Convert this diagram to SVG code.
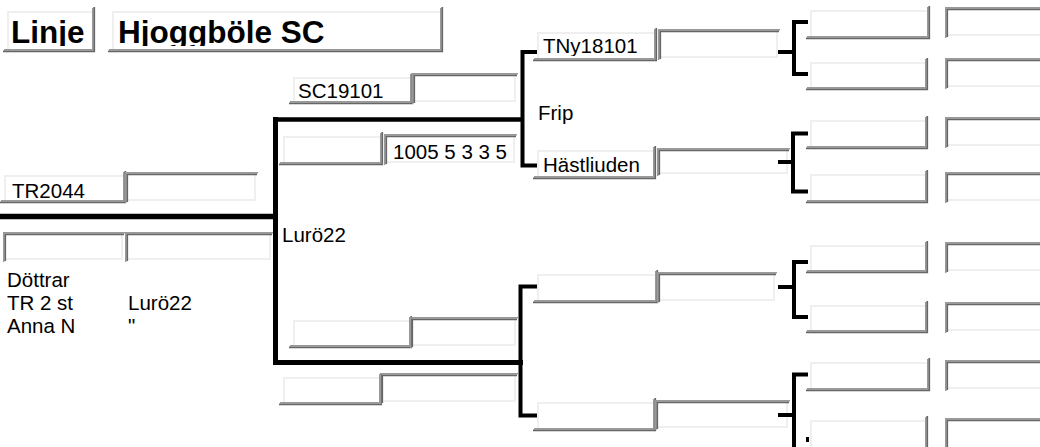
<svg xmlns="http://www.w3.org/2000/svg" width="1040" height="447" viewBox="0 0 1040 447">
<style>
.t{font-family:"Liberation Sans",Arial,sans-serif;font-size:20.5px;fill:#000}
.h{font-family:"Liberation Sans",Arial,sans-serif;font-size:31.5px;font-weight:bold;fill:#000}
.d2{fill:none;stroke:#666;stroke-width:1.75}
.d1{fill:none;stroke:#999;stroke-width:1.5}
.lt{fill:none;stroke:#efefef;stroke-width:2}
.io{fill:none;stroke:#999;stroke-width:1.5}
.ii{fill:none;stroke:#666;stroke-width:1.75}
#connectors path{fill:none;stroke:#000;stroke-linejoin:miter}
</style>
<defs>
<clipPath id="ch"><rect x="0" y="0" width="1040" height="46"/></clipPath>
<clipPath id="cn"><rect x="0" y="0" width="1040" height="56"/></clipPath>
</defs>
<rect width="1040" height="447" fill="#fff"/>

<g id="title-linje">
<text class="h" x="11" y="43" clip-path="url(#ch)">Linje</text>
<path class="lt" d="M8,49 V12 H92"/><path class="d1" d="M4,49.75 H92.75 V8"/><path class="d2" d="M3,51.25 H94.25 V7"/>
</g>
<g id="title-name">
<text class="h" x="118" y="43" clip-path="url(#ch)">Hjoggböle SC</text>
<path class="lt" d="M113,49 V12 H440"/><path class="d1" d="M109,49.75 H440.75 V8"/><path class="d2" d="M108,51.25 H442.25 V7"/>
</g>

<g id="node-tr2044">
<text class="t" x="12" y="198">TR2044</text>
<path class="lt" d="M5,200 V176 H123"/><path class="d1" d="M1,200.75 H123.75 V172"/><path class="d2" d="M0,202.25 H125.25 V171"/>
<path class="lt" d="M128,200 H255 V175"/><path class="io" d="M125.75,203 V172.75 H258"/><path class="ii" d="M127.25,202 V174.25 H257"/>
</g>
<g id="node-row2">
<path class="lt" d="M6,259 H122 V235"/><path class="io" d="M3.75,262 V232.75 H125"/><path class="ii" d="M5.25,261 V234.25 H124"/>
<path class="lt" d="M128,259 H270 V235"/><path class="io" d="M125.75,262 V232.75 H273"/><path class="ii" d="M127.25,261 V234.25 H272"/>
</g>
<g id="node-notes">
<text class="t" x="7" y="287">Döttrar</text>
<text class="t" x="7" y="310">TR 2 st</text>
<text class="t" x="7" y="333">Anna N</text>
<text class="t" x="128" y="310">Lurö22</text>
<text class="t" x="128" y="333">"</text>
</g>
<g id="node-luro">
<text class="t" x="282" y="242">Lurö22</text>
</g>

<g id="node-sc19101">
<text class="t" x="298" y="98">SC19101</text>
<path class="lt" d="M294,101 V78 H410"/><path class="d1" d="M290,101.75 H410.75 V74"/><path class="d2" d="M289,103.25 H412.25 V73"/>
<path class="lt" d="M415,101 H515 V76"/><path class="io" d="M412.75,104 V73.75 H518"/><path class="ii" d="M414.25,103 V75.25 H517"/>
</g>
<g id="node-1005">
<path class="lt" d="M284,162 V137 H380"/><path class="d1" d="M280,162.75 H380.75 V133"/><path class="d2" d="M279,164.25 H382.25 V132"/>
<text class="t" x="393" y="159">1005 5 3 3 5</text>
<path class="lt" d="M387,162 H514 V137"/><path class="io" d="M384.75,165 V134.75 H517"/><path class="ii" d="M386.25,164 V136.25 H516"/>
</g>
<g id="node-low-a">
<path class="lt" d="M294,345 V321 H409"/><path class="d1" d="M290,345.75 H409.75 V317"/><path class="d2" d="M289,347.25 H411.25 V316"/>
<path class="lt" d="M413,345 H515 V320"/><path class="io" d="M410.75,348 V317.75 H518"/><path class="ii" d="M412.25,347 V319.25 H517"/>
</g>
<g id="node-low-b">
<path class="lt" d="M284,402 V378 H379"/><path class="d1" d="M280,402.75 H379.75 V374"/><path class="d2" d="M279,404.25 H381.25 V373"/>
<path class="lt" d="M383,401 H515 V376"/><path class="io" d="M380.75,404 V373.75 H518"/><path class="ii" d="M382.25,403 V375.25 H517"/>
</g>

<g id="node-tny18101">
<text class="t" x="543" y="53" clip-path="url(#cn)">TNy18101</text>
<path class="lt" d="M538,58 V33 H654"/><path class="d1" d="M534,58.75 H654.75 V29"/><path class="d2" d="M533,60.25 H656.25 V28"/>
<path class="lt" d="M661,57 H777 V32"/><path class="io" d="M658.75,60 V29.75 H780"/><path class="ii" d="M660.25,59 V31.25 H779"/>
</g>
<g id="node-frip">
<text class="t" x="538" y="120">Frip</text>
</g>
<g id="node-hastliuden">
<text class="t" x="543" y="172">Hästliuden</text>
<path class="lt" d="M538,176 V151 H653"/><path class="d1" d="M534,176.75 H653.75 V147"/><path class="d2" d="M533,178.25 H655.25 V146"/>
<path class="lt" d="M660,173 H787 V151"/><path class="io" d="M657.75,176 V148.75 H790"/><path class="ii" d="M659.25,175 V150.25 H789"/>
</g>
<g id="node-g3c">
<path class="lt" d="M538,300 V275 H655"/><path class="d1" d="M534,300.75 H655.75 V271"/><path class="d2" d="M533,302.25 H657.25 V270"/>
<path class="lt" d="M660,300 H774 V275"/><path class="io" d="M657.75,303 V272.75 H777"/><path class="ii" d="M659.25,302 V274.25 H776"/>
</g>
<g id="node-g3d">
<path class="lt" d="M538,428 V403 H653"/><path class="d1" d="M534,428.75 H653.75 V399"/><path class="d2" d="M533,430.25 H655.25 V398"/>
<path class="lt" d="M658,427 H787 V403"/><path class="io" d="M655.75,430 V400.75 H790"/><path class="ii" d="M657.25,429 V402.25 H789"/>
</g>

<g id="node-g4a">
<path class="lt" d="M811,36 V11 H927"/><path class="d1" d="M807,36.75 H927.75 V7"/><path class="d2" d="M806,38.25 H929.25 V6"/>
<path class="lt" d="M948,35 H1042"/><path class="io" d="M945.75,38 V7.75 H1045"/><path class="ii" d="M947.25,37 V9.25 H1044"/>
</g>
<g id="node-g4b">
<path class="lt" d="M811,87 V63 H925"/><path class="d1" d="M807,87.75 H925.75 V59"/><path class="d2" d="M806,89.25 H927.25 V58"/>
<path class="lt" d="M948,86 H1042"/><path class="io" d="M945.75,89 V58.75 H1045"/><path class="ii" d="M947.25,88 V60.25 H1044"/>
</g>
<g id="node-g4c">
<path class="lt" d="M811,146 V121 H925"/><path class="d1" d="M807,146.75 H925.75 V117"/><path class="d2" d="M806,148.25 H927.25 V116"/>
<path class="lt" d="M948,145 H1042"/><path class="io" d="M945.75,148 V117.75 H1045"/><path class="ii" d="M947.25,147 V119.25 H1044"/>
</g>
<g id="node-g4d">
<path class="lt" d="M811,200 V175 H925"/><path class="d1" d="M807,200.75 H925.75 V171"/><path class="d2" d="M806,202.25 H927.25 V170"/>
<path class="lt" d="M948,200 H1042"/><path class="io" d="M945.75,203 V172.75 H1045"/><path class="ii" d="M947.25,202 V174.25 H1044"/>
</g>
<g id="node-g4e">
<path class="lt" d="M811,270 V246 H925"/><path class="d1" d="M807,270.75 H925.75 V242"/><path class="d2" d="M806,272.25 H927.25 V241"/>
<path class="lt" d="M948,270 H1042"/><path class="io" d="M945.75,273 V242.75 H1045"/><path class="ii" d="M947.25,272 V244.25 H1044"/>
</g>
<g id="node-g4f">
<path class="lt" d="M811,330 V306 H925"/><path class="d1" d="M807,330.75 H925.75 V302"/><path class="d2" d="M806,332.25 H927.25 V301"/>
<path class="lt" d="M948,330 H1042"/><path class="io" d="M945.75,333 V302.75 H1045"/><path class="ii" d="M947.25,332 V304.25 H1044"/>
</g>
<g id="node-g4g">
<path class="lt" d="M811,388 V363 H927"/><path class="d1" d="M807,388.75 H927.75 V359"/><path class="d2" d="M806,390.25 H929.25 V358"/>
<path class="lt" d="M948,388 H1042"/><path class="io" d="M945.75,391 V360.75 H1045"/><path class="ii" d="M947.25,390 V362.25 H1044"/>
</g>
<g id="node-g4h">
<path class="lt" d="M811,453 V421 H925"/><path class="d1" d="M807,453.75 H925.75 V417"/><path class="d2" d="M806,455.25 H927.25 V416"/>
<path class="io" d="M945.75,449 V418.75 H1045"/><path class="ii" d="M947.25,448 V420.25 H1044"/>
</g>

<g id="connectors">
<path d="M0,216.5 H278" stroke-width="5.5"/>
<path d="M275.5,117 V365" stroke-width="5"/>
<path d="M273,119.5 H524" stroke-width="4.5"/>
<path d="M273,362.5 H523" stroke-width="5"/>
<path d="M537,52 H522.5 V165.5 H537" stroke-width="4"/>
<path d="M537,286.5 H520.5 V415.5 H537" stroke-width="4"/>
<path d="M808,22 H794 V74 H808" stroke-width="4"/>
<path d="M778,52 H794" stroke-width="4"/>
<path d="M808,133.5 H793 V191.5 H808" stroke-width="4"/>
<path d="M778,162 H793" stroke-width="4"/>
<path d="M808,262 H794 V317 H808" stroke-width="4"/>
<path d="M778,287 H794" stroke-width="4"/>
<path d="M808,374.5 H794 V447" stroke-width="4"/>
<path d="M778,415 H794" stroke-width="4"/>
<rect x="806" y="437" width="3" height="5" fill="#000"/>
</g>
</svg>
